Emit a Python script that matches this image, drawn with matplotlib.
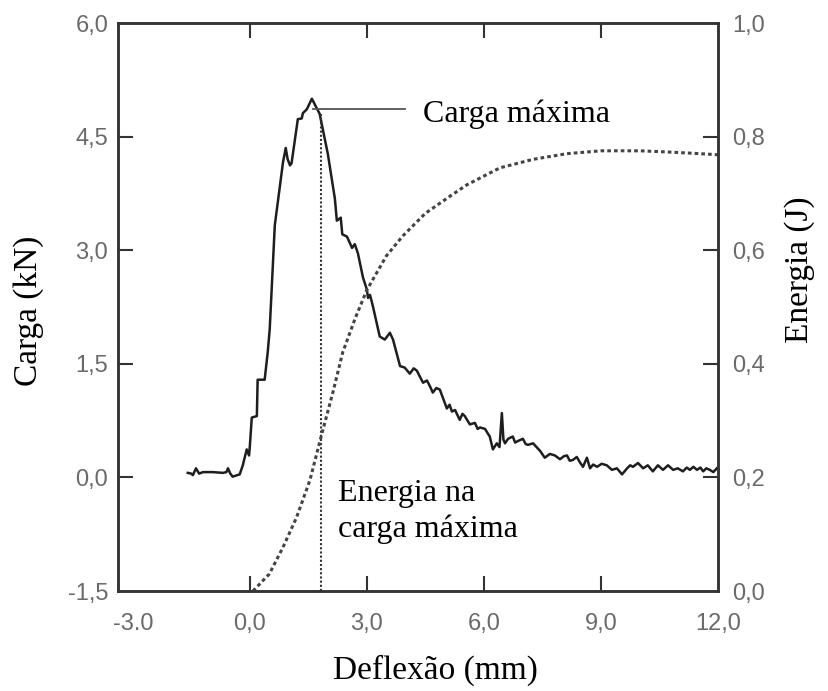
import matplotlib
matplotlib.use("Agg")
import matplotlib.pyplot as plt

# load curve (kN)
load_x = [-1.59, -1.50, -1.46, -1.38, -1.30, -1.20, -0.95, -0.69, -0.60, -0.56, -0.50, -0.44,
          -0.26, -0.18, -0.08, -0.02, 0.00, 0.05, 0.18, 0.20, 0.38, 0.46, 0.51,
          0.64, 0.85, 0.92, 0.97, 1.03, 1.07, 1.23, 1.33, 1.36, 1.46, 1.59,
          1.72, 1.79, 2.00, 2.18, 2.23, 2.33, 2.37, 2.49, 2.62, 2.69, 2.77, 2.90, 3.00,
          3.03, 3.08, 3.15, 3.33, 3.46, 3.59, 3.67, 3.85, 3.97, 4.10, 4.20, 4.28, 4.36,
          4.44, 4.54, 4.62, 4.69, 4.78, 4.87, 5.05, 5.12, 5.18, 5.26, 5.38, 5.45, 5.51,
          5.64, 5.77, 5.84, 5.90, 6.03, 6.10, 6.15, 6.23, 6.33, 6.40, 6.46, 6.50, 6.54,
          6.62, 6.74, 6.80, 6.87, 7.00, 7.07, 7.13, 7.26, 7.35, 7.44, 7.56, 7.69, 7.82,
          7.95, 8.05, 8.13, 8.20, 8.28, 8.38, 8.46, 8.54, 8.60, 8.64, 8.72, 8.80, 8.90,
          9.02, 9.15, 9.28, 9.41, 9.54, 9.67, 9.75, 9.82, 9.95, 10.08, 10.20, 10.33,
          10.46, 10.59, 10.72, 10.85, 10.97, 11.10, 11.20, 11.28, 11.37, 11.46, 11.55,
          11.62, 11.70, 11.79, 11.88, 11.97]
load_kn = [0.06, 0.05, 0.03, 0.12, 0.05, 0.07, 0.07, 0.06, 0.07, 0.12, 0.05, 0.01,
           0.04, 0.16, 0.37, 0.29, 0.41, 0.79, 0.81, 1.29, 1.29, 1.66, 1.96,
           3.33, 4.16, 4.35, 4.20, 4.12, 4.15, 4.73, 4.74, 4.81, 4.86, 5.00,
           4.87, 4.80, 4.27, 3.68, 3.39, 3.43, 3.21, 3.18, 3.03, 3.08, 2.96, 2.64, 2.48,
           2.37, 2.41, 2.27, 1.86, 1.82, 1.91, 1.82, 1.47, 1.45, 1.37, 1.44, 1.41, 1.33,
           1.25, 1.28, 1.20, 1.12, 1.18, 1.16, 0.91, 0.96, 0.87, 0.89, 0.76, 0.84, 0.81,
           0.70, 0.72, 0.64, 0.66, 0.64, 0.58, 0.54, 0.37, 0.45, 0.40, 0.85, 0.50, 0.45,
           0.51, 0.54, 0.46, 0.48, 0.51, 0.44, 0.43, 0.45, 0.40, 0.35, 0.26, 0.31, 0.29,
           0.24, 0.28, 0.29, 0.22, 0.23, 0.27, 0.20, 0.14, 0.21, 0.26, 0.12, 0.17, 0.14,
           0.18, 0.16, 0.10, 0.12, 0.04, 0.12, 0.16, 0.14, 0.19, 0.12, 0.16, 0.08,
           0.16, 0.10, 0.16, 0.10, 0.12, 0.08, 0.13, 0.10, 0.14, 0.10, 0.13,
           0.08, 0.12, 0.10, 0.07, 0.12]

# energy curve (J), right axis
energy_x = [0.08, 0.50, 0.85, 1.20, 1.54, 1.82, 2.13, 2.38, 2.70, 3.00, 3.50, 3.92,
            4.50, 5.13, 5.56, 6.41, 7.26, 8.13, 9.00, 10.00, 10.70, 11.54, 12.00]
energy_j = [0.000, 0.030, 0.077, 0.130, 0.195, 0.270, 0.350, 0.420, 0.480, 0.530, 0.590, 0.625,
            0.665, 0.695, 0.715, 0.745, 0.760, 0.770, 0.775, 0.775, 0.773, 0.770, 0.768]

x_ticks = [-3, 0, 3, 6, 9, 12]
x_labels = ["-3.0", "0,0", "3,0", "6,0", "9,0", "12,0"]
load_ticks = [-1.5, 0, 1.5, 3.0, 4.5, 6.0]
load_labels = ["-1,5", "0,0", "1,5", "3,0", "4,5", "6,0"]
energy_ticks = [0, 0.2, 0.4, 0.6, 0.8, 1.0]
energy_labels = ["0,0", "0,2", "0,4", "0,6", "0,8", "1,0"]

peak_defl = 1.82   # deflection marked by the dotted drop line
peak_load = 4.85
leader_end = 3.97

serif = "Liberation Serif"
sans = "Liberation Sans"
spine_col = "#333333"
tick_col = "#6a6a6a"

fig = plt.figure(figsize=(8.29, 6.91), dpi=100)
ax = fig.add_axes([0.1423, 0.1447, 0.7238, 0.8220])
ax2 = ax.twinx()

ax.plot(load_x, load_kn, color="#1e1e1e", lw=1.8)
ax2.plot(energy_x, energy_j, color="#444444", lw=2.2, linestyle=(0, (1.2, 1.0)))

# markers for the maximum load
ax.plot([peak_defl, peak_defl], [-1.5, peak_load - 0.05], color="#333333", lw=1.5,
        linestyle=(0, (1, 1)))
ax.plot([1.62, leader_end], [peak_load + 0.02, peak_load + 0.02], color="#555555", lw=1.3)
ax.text(4.44, 4.80, "Carga máxima", family=serif, fontsize=23, va="center", ha="left")
ax.text(2.26, -0.02, "Energia na\ncarga máxima", family=serif, fontsize=23,
        va="top", ha="left", linespacing=1.3)

ax.set_xlim(-3.38, 12)
ax.set_ylim(-1.5, 6.0)
ax2.set_ylim(0, 1.0)

ax.set_xticks(x_ticks)
ax.set_xticklabels(x_labels, family=sans)
ax.set_yticks(load_ticks)
ax.set_yticklabels(load_labels, family=sans)
ax2.set_yticks(energy_ticks)
ax2.set_yticklabels(energy_labels, family=sans)

ax.tick_params(axis="x", direction="in", length=11, width=1.5, color=spine_col,
               labelcolor=tick_col, labelsize=17, pad=16, top=True)
ax.tick_params(axis="y", direction="in", length=11, width=1.5, color=spine_col,
               labelcolor=tick_col, labelsize=17, pad=7, right=False)
ax2.tick_params(axis="y", direction="in", length=11, width=1.5, color=spine_col,
                labelcolor=tick_col, labelsize=17, pad=10)

# corner ticks sit on the spines; hide their marks
for t in (ax.xaxis.get_major_ticks()[0], ax.xaxis.get_major_ticks()[-1],
          ax.yaxis.get_major_ticks()[0], ax.yaxis.get_major_ticks()[-1],
          ax2.yaxis.get_major_ticks()[0], ax2.yaxis.get_major_ticks()[-1]):
    t.tick1line.set_visible(False)
    t.tick2line.set_visible(False)

for a in (ax, ax2):
    for s in a.spines.values():
        s.set_color(spine_col)
        s.set_linewidth(1.8)

fig.text(0.034, 0.55, "Carga (kN)", family=serif, fontsize=24, rotation=90,
         ha="center", va="center")
fig.text(0.965, 0.609, "Energia (J)", family=serif, fontsize=24, rotation=90,
         ha="center", va="center")
fig.text(0.525, 0.03, "Deflexão (mm)", family=serif, fontsize=24,
         ha="center", va="center")

fig.savefig("out.png", dpi=100, facecolor="white")
